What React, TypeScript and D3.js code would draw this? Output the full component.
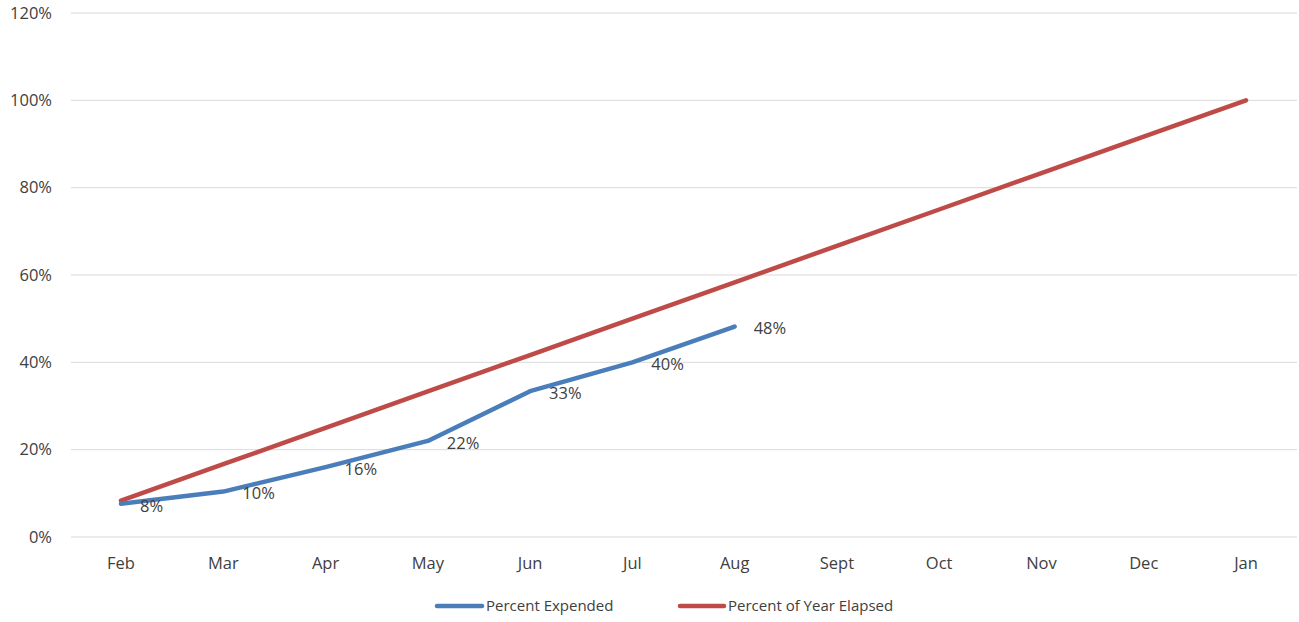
import React from "react";
import * as d3 from "d3";

const months = ["Feb", "Mar", "Apr", "May", "Jun", "Jul", "Aug", "Sept", "Oct", "Nov", "Dec", "Jan"];
const percentExpended = [0.076, 0.104, 0.16, 0.22, 0.334, 0.40, 0.482];
const expendedLabels = ["8%", "10%", "16%", "22%", "33%", "40%", "48%"];
const percentElapsed = [0.0833, 0.1667, 0.25, 0.3333, 0.4167, 0.5, 0.5833, 0.6667, 0.75, 0.8333, 0.9167, 1.0];
const yTicks = [0, 0.2, 0.4, 0.6, 0.8, 1.0, 1.2];

const W = 1299;
const H = 622;
const FONT = "'Open Sans', Lato, sans-serif";
const BLUE = "#4A7EBB";
const RED = "#BE4B48";

export default function App() {
  const x = d3.scalePoint<string>().domain(months).range([121, 1246]);
  const y = d3.scaleLinear().domain([0, 1.2]).range([537, 13]);
  const line = d3
    .line<number>()
    .x((_, i) => x(months[i]) as number)
    .y((d) => y(d));

  return (
    <svg width={W} height={H} style={{ position: "absolute", left: 0, top: 0, background: "#fff" }}>
      {yTicks.map((t) => (
        <g key={t}>
          <line x1={71} x2={1297} y1={y(t)} y2={y(t)} stroke="#d9d9d9" strokeWidth={1} />
          <text x={52} y={y(t)} dy="0.35em" textAnchor="end" fontFamily={FONT} fontSize={16.5} fill="#404040">
            {d3.format(".0%")(t)}
          </text>
        </g>
      ))}
      {months.map((m) => (
        <text key={m} x={x(m)} y={563} dy="0.35em" textAnchor="middle" fontFamily={FONT} fontSize={16.5} fill="#404040">
          {m}
        </text>
      ))}
      <path d={line(percentElapsed) || ""} fill="none" stroke={RED} strokeWidth={4.5} strokeLinejoin="round" strokeLinecap="round" />
      <path d={line(percentExpended) || ""} fill="none" stroke={BLUE} strokeWidth={4.5} strokeLinejoin="round" strokeLinecap="round" />
      {percentExpended.map((v, i) => (
        <text
          key={i}
          x={(x(months[i]) as number) + 19}
          y={y(v) + 2}
          dy="0.35em"
          textAnchor="start"
          fontFamily={FONT}
          fontSize={16.5}
          fill="#404040"
        >
          {expendedLabels[i]}
        </text>
      ))}
      <g>
        <line x1={437} x2={482} y1={606} y2={606} stroke={BLUE} strokeWidth={4.5} strokeLinecap="round" />
        <text x={486} y={606} dy="0.35em" fontFamily={FONT} fontSize={15} fill="#404040">
          Percent Expended
        </text>
        <line x1={680} x2={724} y1={606} y2={606} stroke={RED} strokeWidth={4.5} strokeLinecap="round" />
        <text x={728} y={606} dy="0.35em" fontFamily={FONT} fontSize={15} fill="#404040">
          Percent of Year Elapsed
        </text>
      </g>
    </svg>
  );
}
